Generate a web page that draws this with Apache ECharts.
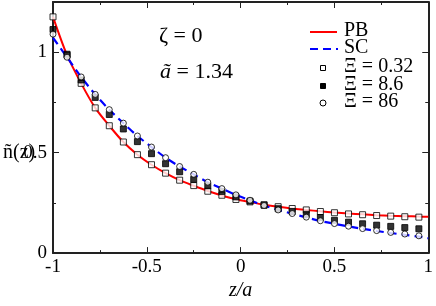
<!DOCTYPE html>
<html><head><meta charset="utf-8">
<script src="https://cdn.jsdelivr.net/npm/echarts@6/dist/echarts.min.js"></script>
<style>html,body{margin:0;padding:0;background:#fff}#c{width:436px;height:306px}</style>
</head><body><div id="c"></div>
<script>
// ---- data ----
const zPts = [-1, -0.925, -0.85, -0.775, -0.7, -0.625, -0.55, -0.475, -0.4, -0.325, -0.25, -0.175, -0.1, -0.025,
  0.05, 0.125, 0.2, 0.275, 0.35, 0.425, 0.5, 0.575, 0.65, 0.725, 0.8, 0.875, 0.95];
const xi032 = [1.176, 0.985, 0.845, 0.723, 0.634, 0.553, 0.49, 0.44, 0.398, 0.363, 0.336, 0.308, 0.288, 0.267,
  0.255, 0.241, 0.231, 0.222, 0.215, 0.207, 0.201, 0.195, 0.191, 0.187, 0.184, 0.181, 0.179];
const xi86s = [1.113, 0.99, 0.862, 0.775, 0.69, 0.618, 0.555, 0.495, 0.445, 0.405, 0.367, 0.335, 0.307, 0.28,
  0.259, 0.238, 0.221, 0.207, 0.193, 0.177, 0.163, 0.154, 0.146, 0.139, 0.133, 0.127, 0.121];
const xi86 = [1.09, 0.975, 0.877, 0.79, 0.714, 0.647, 0.583, 0.528, 0.475, 0.431, 0.392, 0.353, 0.321, 0.29,
  0.263, 0.237, 0.215, 0.197, 0.179, 0.161, 0.147, 0.134, 0.122, 0.112, 0.103, 0.095, 0.086];
const lineZ = [-1, -0.925, -0.85, -0.775, -0.7, -0.625, -0.55, -0.475, -0.4, -0.325, -0.25, -0.175, -0.1, -0.025,
  0.05, 0.125, 0.2, 0.275, 0.35, 0.425, 0.5, 0.575, 0.65, 0.725, 0.8, 0.875, 0.95, 1];
const pbN = [1.176, 0.985, 0.845, 0.723, 0.634, 0.553, 0.49, 0.44, 0.398, 0.363, 0.335, 0.309, 0.287, 0.268,
  0.254, 0.241, 0.231, 0.222, 0.215, 0.208, 0.202, 0.197, 0.193, 0.189, 0.186, 0.184, 0.182, 0.181];
const scN = [1.072, 0.975, 0.877, 0.79, 0.714, 0.647, 0.583, 0.528, 0.475, 0.431, 0.392, 0.353, 0.321, 0.29,
  0.263, 0.237, 0.215, 0.196, 0.178, 0.16, 0.146, 0.133, 0.121, 0.11, 0.1, 0.091, 0.082, 0.074];
const xTicks = ['-1', '-0.5', '0', '0.5', '1'];
const legendNames = ['PB', 'SC', 'Ξ = 0.32', 'Ξ = 8.6', 'Ξ = 86'];

const pair = (xs, ys) => xs.map((x, i) => [x, ys[i]]);
const SERIF = '"Liberation Serif","DejaVu Serif",serif';
const chart = echarts.init(document.getElementById('c'), null, {renderer: 'canvas'});

const axisCommon = () => ({
  axisLine: {show: true, onZero: false, lineStyle: {color: '#222', width: 2}},
  axisTick: {show: true, inside: true, length: 6, lineStyle: {color: '#222', width: 1}},
  minorTick: {show: true, splitNumber: 2, length: 3, lineStyle: {color: '#222', width: 1}},
  splitLine: {show: false}
});
function fmtX(v) { const m = {'-1': xTicks[0], '-0.5': xTicks[1], '0': xTicks[2], '0.5': xTicks[3], '1': xTicks[4]}; return m[String(v)] ?? String(v); }

chart.setOption({
  animation: false,
  backgroundColor: '#fff',
  grid: {left: 53, right: 6, top: 2, bottom: 40},
  xAxis: [
    Object.assign({type: 'value', min: -1, max: 1, interval: 0.5, position: 'bottom',
      axisLabel: {show: true, color: '#000', fontFamily: SERIF, fontSize: 19, margin: 4, formatter: fmtX},
      name: 'z/a', nameLocation: 'middle', nameGap: 26,
      nameTextStyle: {fontFamily: SERIF, fontSize: 20, fontStyle: 'italic', color: '#000'}}, axisCommon()),
    Object.assign({type: 'value', min: -1, max: 1, interval: 0.5, position: 'top', axisLabel: {show: false}}, axisCommon())
  ],
  yAxis: [
    Object.assign({type: 'value', min: 0, max: 1.25, interval: 0.5, position: 'left',
      axisLabel: {show: true, color: '#000', fontFamily: SERIF, fontSize: 19, margin: 6,
        formatter: v => (v === 0 ? '0' : v === 0.5 ? '0.5' : v === 1 ? '1' : '')}}, axisCommon()),
    Object.assign({type: 'value', min: 0, max: 1.25, interval: 0.5, position: 'right', axisLabel: {show: false}}, axisCommon())
  ],
  series: [
    {name: legendNames[0], type: 'line', data: pair(lineZ, pbN), smooth: 0.3, symbol: 'none',
      lineStyle: {color: '#ff0000', width: 2}, z: 2},
    {name: legendNames[1], type: 'line', data: pair(lineZ, scN), smooth: 0.3, symbol: 'none',
      lineStyle: {color: '#0000ff', width: 2.2, type: [8, 5]}, z: 2},
    {name: legendNames[2], type: 'scatter', data: pair(zPts, xi032), symbol: 'rect', symbolSize: 6,
      itemStyle: {color: '#fff', borderColor: '#000', borderWidth: 1}, z: 3},
    {name: legendNames[3], type: 'scatter', data: pair(zPts, xi86s), symbol: 'rect', symbolSize: 6,
      itemStyle: {color: '#000', borderColor: '#000', borderWidth: 1}, z: 4},
    {name: legendNames[4], type: 'scatter', data: pair(zPts, xi86), symbol: 'circle', symbolSize: 6,
      itemStyle: {color: '#fff', borderColor: '#000', borderWidth: 1}, z: 5}
  ],
  graphic: [
    {type: 'text', left: 3, top: 143, style: {text: 'ñ(z)', font: '20px ' + SERIF, fill: '#000'}},
    {type: 'text', left: 159, top: 25, style: {text: 'ζ = 0', font: '22px ' + SERIF, fill: '#000'}},
    {type: 'text', left: 160, top: 61, style: {rich: {i: {fontFamily: SERIF, fontSize: 22, fontStyle: 'italic'}, n: {fontFamily: SERIF, fontSize: 22}},
      text: '{i|ã}{n| = 1.34}', fill: '#000'}},
    // legend
    {type: 'line', shape: {x1: 310, y1: 32, x2: 337, y2: 32}, style: {stroke: '#ff0000', lineWidth: 2}},
    {type: 'text', left: 344, top: 21, style: {text: legendNames[0], font: '20px ' + SERIF, fill: '#000'}},
    {type: 'line', shape: {x1: 310, y1: 49, x2: 338, y2: 49}, style: {stroke: '#0000ff', lineWidth: 2.2, lineDash: [8, 5]}},
    {type: 'text', left: 344, top: 38, style: {text: legendNames[1], font: '20px ' + SERIF, fill: '#000'}},
    {type: 'rect', shape: {x: 320.5, y: 65.5, width: 5, height: 5}, style: {fill: '#fff', stroke: '#000', lineWidth: 1}},
    {type: 'text', left: 344, top: 57, style: {text: legendNames[2], font: '20px ' + SERIF, fill: '#000'}},
    {type: 'rect', shape: {x: 320.5, y: 83.5, width: 5, height: 5}, style: {fill: '#000', stroke: '#000', lineWidth: 1}},
    {type: 'text', left: 344, top: 75, style: {text: legendNames[3], font: '20px ' + SERIF, fill: '#000'}},
    {type: 'circle', shape: {cx: 323, cy: 103, r: 3}, style: {fill: '#fff', stroke: '#000', lineWidth: 1}},
    {type: 'text', left: 344, top: 92, style: {text: legendNames[4], font: '20px ' + SERIF, fill: '#000'}}
  ]
});
</script></body></html>
